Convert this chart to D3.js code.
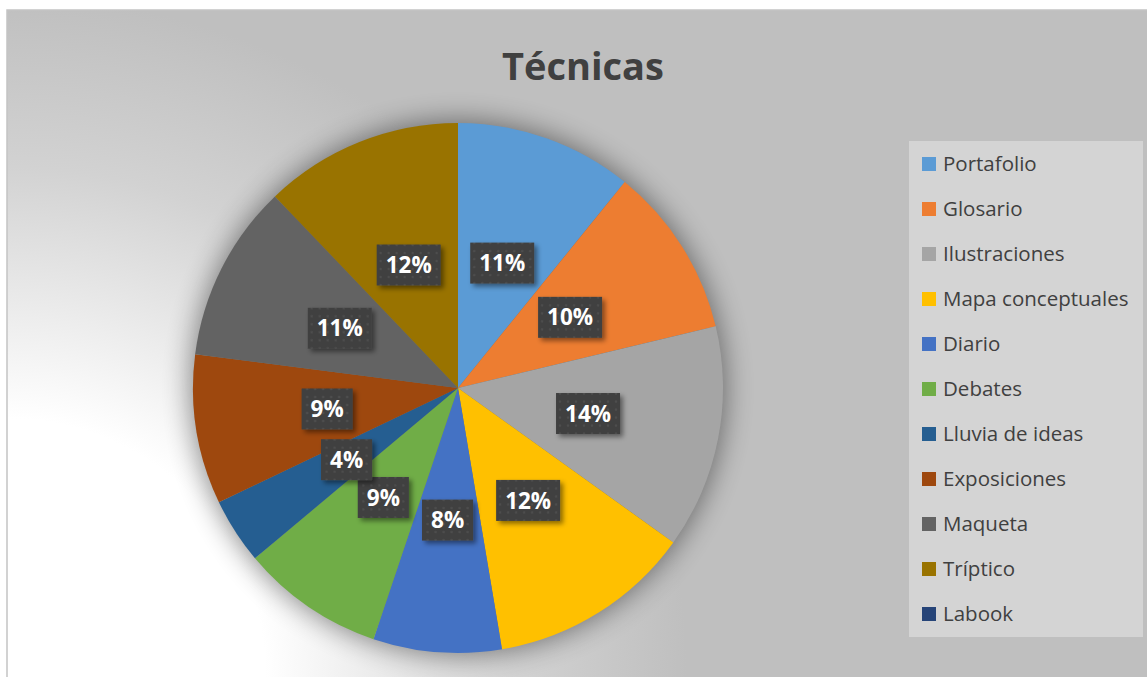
<!DOCTYPE html>
<html>
<head>
<meta charset="utf-8">
<script src="https://cdn.jsdelivr.net/npm/d3@7"></script>
<style>
  body { margin: 0; background: #fff; }
  svg { display: block; font-family: "Open Sans", "Noto Sans", sans-serif; }
</style>
</head>
<body>
<div id="chart"></div>
<script>
var categories = ["Portafolio", "Glosario", "Ilustraciones", "Mapa conceptuales", "Diario",
  "Debates", "Lluvia de ideas", "Exposiciones", "Maqueta", "Tríptico", "Labook"];
var values = [10.8, 10.4, 13.6, 12.4, 7.8, 8.7, 4.0, 9.1, 10.8, 12.1, 0];
var colors = ["#5B9BD5", "#ED7D31", "#A5A5A5", "#FFC000", "#4472C4",
  "#70AD47", "#255E91", "#9E480E", "#636363", "#997300", "#264478"];

var width = 1147, height = 677;
var cx = 458, cy = 388, radius = 265;

var svg = d3.select("#chart").append("svg")
    .attr("width", width)
    .attr("height", height);

var defs = svg.append("defs");

// background gradient, white at bottom left fading to grey
var bg = defs.append("radialGradient")
    .attr("id", "bg")
    .attr("gradientUnits", "userSpaceOnUse")
    .attr("cx", 7).attr("cy", 677).attr("r", 680);
bg.append("stop").attr("offset", "0").attr("stop-color", "#ffffff");
bg.append("stop").attr("offset", "0.38").attr("stop-color", "#ffffff");
bg.append("stop").attr("offset", "0.75").attr("stop-color", "#d2d2d2");
bg.append("stop").attr("offset", "1").attr("stop-color", "#bfbfbf");

var blur = defs.append("filter").attr("id", "pieShadow")
    .attr("x", "-30%").attr("y", "-30%").attr("width", "160%").attr("height", "160%");
blur.append("feGaussianBlur").attr("stdDeviation", 14);

var drop = defs.append("filter").attr("id", "boxShadow")
    .attr("x", "-30%").attr("y", "-30%").attr("width", "160%").attr("height", "160%");
drop.append("feDropShadow").attr("dx", 3).attr("dy", 3)
    .attr("stdDeviation", 2.5).attr("flood-color", "#000").attr("flood-opacity", 0.45);

var dots = defs.append("pattern").attr("id", "dots")
    .attr("patternUnits", "userSpaceOnUse")
    .attr("width", 8).attr("height", 8);
dots.append("rect").attr("width", 8).attr("height", 8).attr("fill", "#404040");
dots.append("circle").attr("cx", 4).attr("cy", 4).attr("r", 1.3).attr("fill", "#4d4d4d");

svg.append("rect")
    .attr("x", 7).attr("y", 10)
    .attr("width", width - 6).attr("height", height - 9)
    .attr("fill", "url(#bg)")
    .attr("stroke", "#c4c4c4")
    .attr("stroke-width", 1.5);

svg.append("text")
    .attr("x", 583).attr("y", 80)
    .attr("text-anchor", "middle")
    .attr("font-size", 38)
    .attr("font-weight", "bold")
    .attr("fill", "#404040")
    .text("Técnicas");

var g = svg.append("g")
    .attr("transform", "translate(" + cx + "," + cy + ")");

g.append("circle")
    .attr("r", radius + 2)
    .attr("fill", "#000")
    .attr("opacity", 0.45)
    .attr("filter", "url(#pieShadow)");

var pie = d3.pie().sort(null).value(function(d) { return d; });
var arcs = pie(values);
var total = d3.sum(values);

var arc = d3.arc().innerRadius(0).outerRadius(radius);

g.selectAll(".slice")
    .data(arcs)
  .enter().append("path")
    .attr("class", "slice")
    .attr("d", arc)
    .attr("fill", function(d, i) { return colors[i]; });

var labels = g.selectAll(".lbl")
    .data(arcs.filter(function(d) { return d.value > 0; }))
  .enter().append("g")
    .attr("class", "lbl")
    .attr("transform", function(d) {
      var c = arc.centroid(d);
      return "translate(" + c[0] + "," + c[1] + ")";
    });

labels.append("rect")
    .attr("fill", "url(#dots)")
    .attr("filter", "url(#boxShadow)");

labels.append("text")
    .attr("text-anchor", "middle")
    .attr("dy", "0.36em")
    .attr("font-size", 22.5)
    .attr("font-weight", "bold")
    .attr("fill", "#fff")
    .text(function(d) { return Math.round(d.value / total * 100) + "%"; });

labels.each(function() {
  var t = d3.select(this).select("text").node().getComputedTextLength();
  d3.select(this).select("rect")
    .attr("x", -t / 2 - 9).attr("y", -20.5)
    .attr("width", t + 18).attr("height", 41);
});

// legend
var legend = svg.append("g");
legend.append("rect")
    .attr("x", 909).attr("y", 141)
    .attr("width", 234).attr("height", 496)
    .attr("fill", "#d4d4d4");

var rowY = d3.scalePoint().domain(categories).range([164, 614]);

var rows = legend.selectAll(".row")
    .data(categories)
  .enter().append("g")
    .attr("class", "row")
    .attr("transform", function(d) { return "translate(0," + rowY(d) + ")"; });

rows.append("rect")
    .attr("x", 922).attr("y", -7)
    .attr("width", 14).attr("height", 14)
    .attr("fill", function(d, i) { return colors[i]; });

rows.append("text")
    .attr("x", 943).attr("dy", "0.35em")
    .attr("font-size", 20.5)
    .attr("fill", "#404040")
    .text(function(d) { return d; });
</script>
</body>
</html>
